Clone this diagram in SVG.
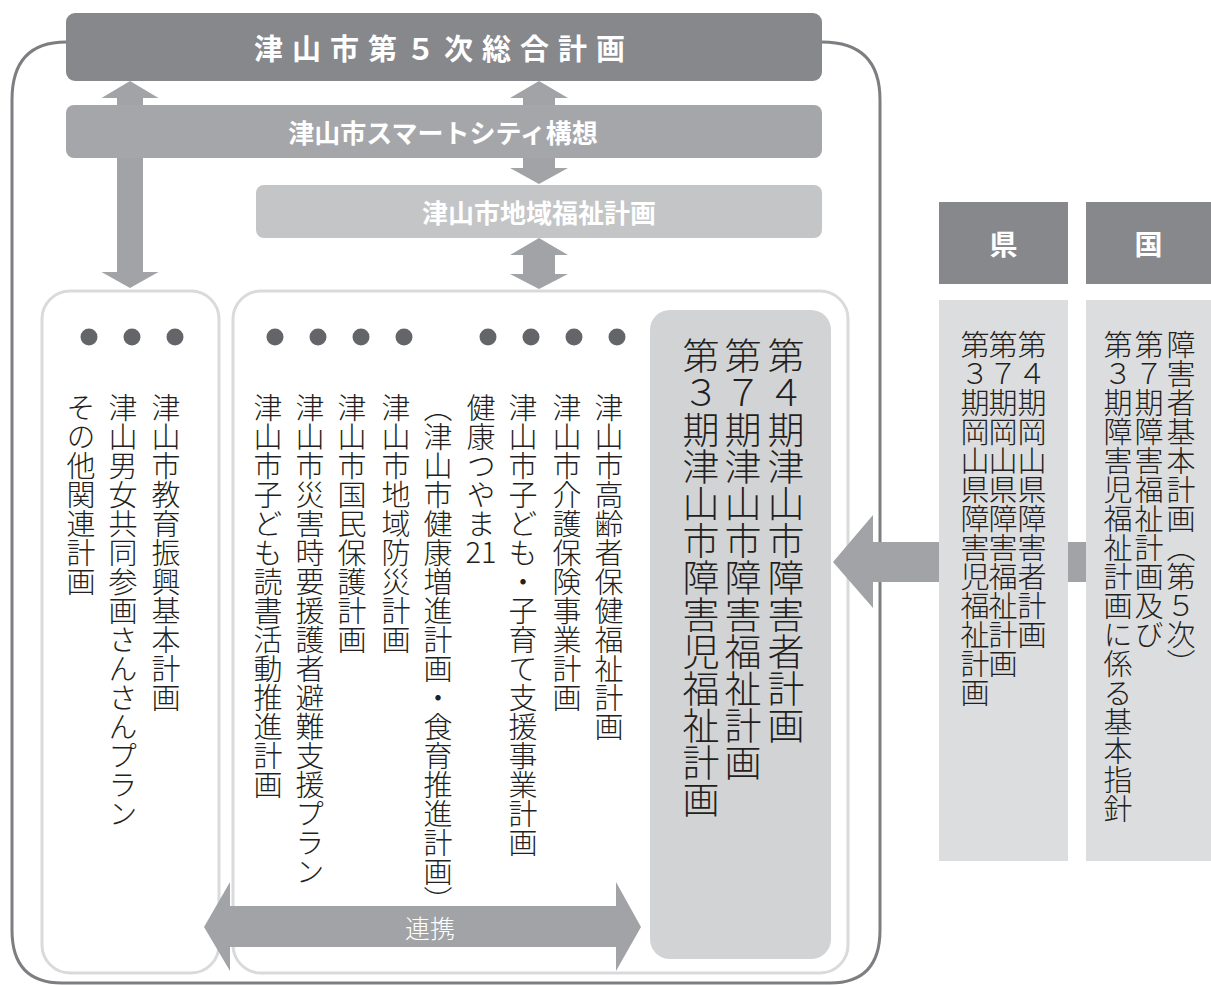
<svg xmlns="http://www.w3.org/2000/svg" width="1211" height="985" viewBox="0 0 1211 985">
<style>
.v { font-family: "Noto Sans CJK JP", "Noto Sans CJK SC", sans-serif; font-size: 29px; fill: #231f20; writing-mode: vertical-rl; font-weight: 300; }
.vb { font-size: 37px; }
.h { font-family: "Noto Sans CJK JP", "Noto Sans CJK SC", sans-serif; font-weight: 700; fill: #ffffff; text-anchor: middle; dominant-baseline: central; }
.arrow { fill: #a2a3a6; }
.dot { fill: #646569; }
.inner { fill: #ffffff; stroke: #d9dadb; stroke-width: 3; }
.frame { fill: none; stroke: #7d7e81; stroke-width: 3; }
</style>
<g id="connectors">
<path class="frame" d="M66,42 Q12,42 12,100 V930 Q12,983 62,983 H830 Q880,983 880,930 V100 Q880,42 822,42"/>
</g>
<g id="box-left">
<rect class="inner" x="42" y="291" width="177" height="682" rx="28"/>
<circle class="dot" cx="89" cy="337" r="8.5"/>
<circle class="dot" cx="132" cy="337" r="8.5"/>
<circle class="dot" cx="175" cy="337" r="8.5"/>
<text class="v" x="166" y="393">津山市教育振興基本計画</text>
<text class="v" x="123" y="393">津山男女共同参画さんさんプラン</text>
<text class="v" x="81" y="393">その他関連計画</text>
</g>
<g id="box-middle">
<rect class="inner" x="233" y="291" width="615" height="682" rx="28"/>
<circle class="dot" cx="275" cy="337" r="8.5"/>
<circle class="dot" cx="318" cy="337" r="8.5"/>
<circle class="dot" cx="361" cy="337" r="8.5"/>
<circle class="dot" cx="404" cy="337" r="8.5"/>
<circle class="dot" cx="488" cy="337" r="8.5"/>
<circle class="dot" cx="531" cy="337" r="8.5"/>
<circle class="dot" cx="574" cy="337" r="8.5"/>
<circle class="dot" cx="617" cy="337" r="8.5"/>
<text class="v" x="609" y="393">津山市高齢者保健福祉計画</text>
<text class="v" x="567" y="393">津山市介護保険事業計画</text>
<text class="v" x="523" y="393">津山市子ども・子育て支援事業計画</text>
<text class="v" x="481" y="393">健康つやま</text>
<text x="481" y="563" style="font-family:'Noto Sans CJK JP',sans-serif;font-size:29px;font-weight:300;fill:#231f20;text-anchor:middle">21</text>
<text class="v" x="438" y="393">（津山市健康増進計画・食育推進計画）</text>
<text class="v" x="396" y="393">津山市地域防災計画</text>
<text class="v" x="352" y="393">津山市国民保護計画</text>
<text class="v" x="310" y="393">津山市災害時要援護者避難支援プラン</text>
<text class="v" x="268" y="393">津山市子ども読書活動推進計画</text>
</g>
<g id="box-city-plans">
<rect x="650" y="310" width="181" height="649" rx="20" fill="#d2d3d5"/>
<text class="v vb" x="786" y="337">第４期津山市障害者計画</text>
<text class="v vb" x="743" y="337">第７期津山市障害福祉計画</text>
<text class="v vb" x="701" y="337">第３期津山市障害児福祉計画</text>
</g>
<g id="arrows">
<polygon class="arrow" points="130,81 158.5,98 143,98 143,272 158.5,272 130,288 101.5,272 117,272 117,98 101.5,98"/>
<polygon class="arrow" points="539,81 568,98 555,98 555,168 568,168 539,184 510,168 523,168 523,98 510,98"/>
<polygon class="arrow" points="539,238 568,255 555,255 555,274 568,274 539,289 510,274 523,274 523,255 510,255"/>
<polygon class="arrow" points="833,562 873,515 873,542 939,542 939,582 873,582 873,608"/>
<rect class="arrow" x="1068" y="542" width="18" height="40"/>
<polygon class="arrow" points="204,927 230,882 230,906 616,906 616,882 641,927 616,971 616,947 230,947 230,971"/>
<text x="430" y="927" style="font-family:'Noto Sans CJK JP',sans-serif;font-size:25px;font-weight:300;fill:#ffffff;text-anchor:middle;dominant-baseline:central">連携</text>
</g>
<g id="top-plan">
<rect x="66" y="13" width="756" height="68" rx="9" fill="#87888c"/>
<text class="h" x="444" y="47" style="font-size:29px;letter-spacing:9px">津山市第５次総合計画</text>
</g>
<g id="smart-city">
<rect x="66" y="105" width="756" height="53" rx="8" fill="#a5a6a9"/>
<text class="h" x="443" y="131" style="font-size:26px">津山市スマートシティ構想</text>
</g>
<g id="local-welfare">
<rect x="256" y="185" width="566" height="53" rx="8" fill="#c4c5c7"/>
<text class="h" x="539" y="211" style="font-size:26px">津山市地域福祉計画</text>
</g>
<g id="pref">
<rect x="939" y="202" width="129" height="82" fill="#87888c"/>
<text class="h" x="1003.5" y="243" style="font-size:28px">県</text>
<rect x="939" y="300" width="129" height="561" fill="#dcdddf"/>
<text class="v" x="1032" y="330">第４期岡山県障害者計画</text>
<text class="v" x="1003" y="330">第７期岡山県障害福祉計画</text>
<text class="v" x="975" y="330">第３期岡山県障害児福祉計画</text>
</g>
<g id="nation">
<rect x="1086" y="202" width="125" height="82" fill="#87888c"/>
<text class="h" x="1148.5" y="243" style="font-size:28px">国</text>
<rect x="1086" y="300" width="125" height="561" fill="#dcdddf"/>
<text class="v" x="1181" y="330">障害者基本計画（第５次）</text>
<text class="v" x="1149" y="330">第７期障害福祉計画及び</text>
<text class="v" x="1118" y="330">第３期障害児福祉計画に係る基本指針</text>
</g>
</svg>
